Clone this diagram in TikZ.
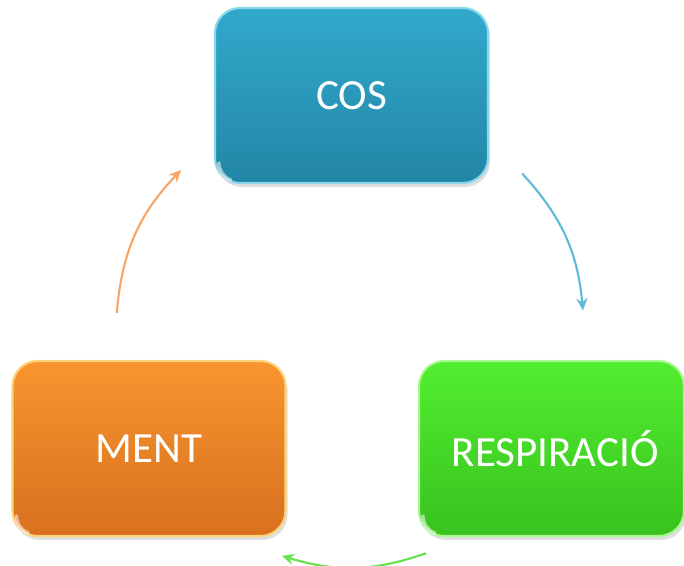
\documentclass[tikz,border=0pt]{standalone}
\usepackage{fontspec}
\setmainfont{Carlito}
\usetikzlibrary{arrows.meta,shadows,calc}

\definecolor{cosTop}{HTML}{31A9CC}
\definecolor{cosBot}{HTML}{2386A6}
\definecolor{cosRim}{HTML}{8AD6EC}
\definecolor{respTop}{HTML}{52EE30}
\definecolor{respBot}{HTML}{38C21E}
\definecolor{respRim}{HTML}{A8F890}
\definecolor{mentTop}{HTML}{F8952F}
\definecolor{mentBot}{HTML}{D8701E}
\definecolor{mentRim}{HTML}{FCD27A}
\definecolor{cosLine}{HTML}{5DBAD8}
\definecolor{respLine}{HTML}{66E24C}
\definecolor{mentLine}{HTML}{F7A466}

\tikzset{
  cyclebox/.style={rounded corners=0.5cm, minimum width=5.46cm, minimum height=3.5cm,
    text=white, font=\fontsize{24.5}{29}\selectfont, line width=1.2pt,
    drop shadow={shadow xshift=0.4mm, shadow yshift=-0.8mm, opacity=0.25}},
  cyclearrow/.style={line width=1.2pt, -{Stealth[length=2.4mm,width=2.2mm]}},
  gloss/.style={white, opacity=0.55, line width=2pt, line cap=round},
}

\begin{document}
\begin{tikzpicture}
  \useasboundingbox (0,0) rectangle (13.68,11.32);

  % the three boxes
  \node[cyclebox, draw=cosRim, top color=cosTop, bottom color=cosBot] (cos) at (7.03,9.41) {COS};
  \node[cyclebox, draw=respRim, top color=respTop, bottom color=respBot, minimum width=5.30cm] (resp) at (11.03,2.35) {\hspace{0.15cm}RESPIRACIÓ};
  \node[cyclebox, draw=mentRim, top color=mentTop, bottom color=mentBot] (ment) at (2.98,2.35) {MENT};

  % shine in the lower left corners
  \foreach \b in {cos,resp,ment}
    \draw[gloss] ($(\b.south west)+(0.1,0.42)$) arc[start angle=180, end angle=250, radius=0.36];

  % arrow ends on a circle round the middle
  \coordinate (mid) at (7.0,4.68);
  \coordinate (cosOut) at ($(mid)+(42.6:4.68)$);
  \coordinate (respIn) at ($(mid)+(5.3:4.68)$);
  \coordinate (respOut) at ($(mid)+(-71:4.68)$);
  \coordinate (mentIn) at ($(mid)+(-106.9:4.68)$);
  \coordinate (mentOut) at ($(mid)+(175.3:4.68)$);
  \coordinate (cosIn) at ($(mid)+(136.2:4.68)$);

  \draw[cyclearrow, cosLine] (cosOut) to[bend left=18.6] (respIn);
  \draw[cyclearrow, respLine] (respOut) to[bend left=18] (mentIn);
  \draw[cyclearrow, mentLine] (mentOut) to[bend left=19.5] (cosIn);
\end{tikzpicture}
\end{document}
